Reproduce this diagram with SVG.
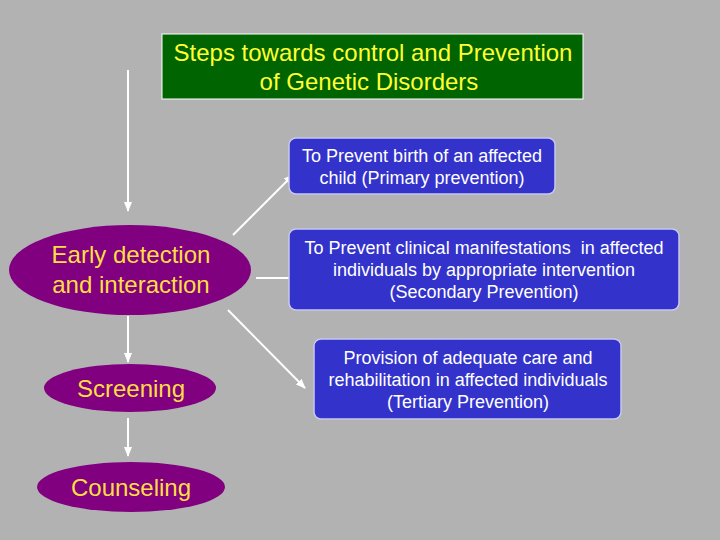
<svg xmlns="http://www.w3.org/2000/svg" width="720" height="540" viewBox="0 0 720 540">
<defs>
<style>
.title{font-family:"Liberation Sans",Arial,sans-serif;font-size:24px;fill:#ffff33;text-anchor:middle}
.oval{fill:#800080}
.otext{font-family:"Liberation Sans",Arial,sans-serif;font-size:24px;fill:#ffdd44;text-anchor:middle}
.box{fill:#3333cc;stroke:#c8c8f0;stroke-width:1.5}
.btext{font-family:"Liberation Sans",Arial,sans-serif;font-size:18px;fill:#ffffff;text-anchor:middle}
.conn{stroke:#ffffff;stroke-width:2;fill:none;marker-end:url(#ah)}
</style>
<marker id="ah" viewBox="0 0 10 10" refX="9" refY="5" markerWidth="5" markerHeight="5" orient="auto" markerUnits="strokeWidth">
<path d="M0,1 L10,5 L0,9 z" fill="#ffffff"/>
</marker>
</defs>
<rect x="0" y="0" width="720" height="540" fill="#b2b2b2"/>
<g id="title">
<rect x="162" y="34" width="421" height="65" fill="#006400" stroke="#ffffff" stroke-width="1"/>
<text class="title" x="373" y="61">Steps towards control and Prevention</text>
<text class="title" x="369" y="90">of Genetic Disorders</text>
</g>
<g id="connectors">
<line class="conn" x1="128" y1="70" x2="128" y2="211"/>
<line class="conn" x1="233" y1="235" x2="293" y2="175"/>
<line class="conn" x1="256" y1="278" x2="300" y2="278"/>
<line class="conn" x1="228" y1="310" x2="305" y2="388"/>
<line class="conn" x1="128" y1="316" x2="128" y2="362"/>
<line class="conn" x1="128" y1="418" x2="128" y2="456"/>
</g>
<g id="early">
<ellipse class="oval" cx="130" cy="270" rx="121" ry="45"/>
<text class="otext" x="131" y="263">Early detection</text>
<text class="otext" x="131" y="293">and interaction</text>
</g>
<g id="screening">
<ellipse class="oval" cx="130" cy="388" rx="86" ry="24"/>
<text class="otext" x="131" y="397">Screening</text>
</g>
<g id="counseling">
<ellipse class="oval" cx="131" cy="487" rx="94" ry="25"/>
<text class="otext" x="131" y="496">Counseling</text>
</g>
<g id="primary">
<rect class="box" x="289" y="138" width="266" height="56" rx="7"/>
<text class="btext" x="422" y="162">To Prevent birth of an affected</text>
<text class="btext" x="422" y="184">child (Primary prevention)</text>
</g>
<g id="secondary">
<rect class="box" x="289" y="229" width="390" height="81" rx="7"/>
<text class="btext" x="484" y="254" xml:space="preserve">To Prevent clinical manifestations  in affected</text>
<text class="btext" x="484" y="276">individuals by appropriate intervention</text>
<text class="btext" x="484" y="298">(Secondary Prevention)</text>
</g>
<g id="tertiary">
<rect class="box" x="314" y="339" width="307" height="80" rx="7"/>
<text class="btext" x="468" y="364">Provision of adequate care and</text>
<text class="btext" x="468" y="386">rehabilitation in affected individuals</text>
<text class="btext" x="468" y="408">(Tertiary Prevention)</text>
</g>
</svg>
